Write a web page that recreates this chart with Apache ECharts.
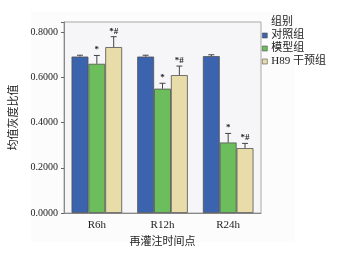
<!DOCTYPE html>
<html>
<head>
<meta charset="utf-8">
<script src="https://cdn.jsdelivr.net/npm/echarts@6/dist/echarts.min.js"></script>
<style>
  html, body { margin: 0; padding: 0; background: #fff; }
  #chart { width: 354px; height: 254px; }
</style>
</head>
<body>
<div id="chart"></div>
<script>
const categories = ['R6h', 'R12h', 'R24h'];
const groupNames = ['对照组', '模型组', 'H89 干预组'];
const controlValues = [0.692, 0.692, 0.694];
const modelValues = [0.660, 0.550, 0.312];
const h89Values = [0.734, 0.610, 0.287];
const controlErr = [0.006, 0.006, 0.006];
const modelErr = [0.037, 0.024, 0.040];
const h89Err = [0.046, 0.040, 0.021];
const controlMarks = ['', '', ''];
const modelMarks = ['*', '*', '*'];
const h89Marks = ['*#', '*#', '*#'];

const colors = ['#3c64ae', '#6cbd5b', '#e8dca8'];
const serif = "'Liberation Serif', 'DejaVu Serif', 'Noto Sans CJK SC', serif";
const catGap = 0.23;

const chart = echarts.init(document.getElementById('chart'));

const groups = [
  { values: controlValues, err: controlErr, marks: controlMarks },
  { values: modelValues, err: modelErr, marks: modelMarks },
  { values: h89Values, err: h89Err, marks: h89Marks }
];

const barSeries = groups.map((g, i) => ({
  name: groupNames[i],
  type: 'bar',
  data: g.values,
  barGap: '0%',
  barCategoryGap: (catGap * 100) + '%',
  itemStyle: { color: colors[i], borderColor: '#505050', borderWidth: 0.8 }
}));

const errSeries = groups.map((g, i) => ({
  type: 'custom',
  silent: true,
  z: 5,
  data: g.values.map((v, k) => [k, v, v + g.err[k], g.marks[k]]),
  renderItem: (params, api) => {
    const band = api.size([1, 0])[0];
    const bw = band * (1 - catGap) / 3;
    const base = api.coord([api.value(0), api.value(1)]);
    const top = api.coord([api.value(0), api.value(2)]);
    const x = base[0] + (i - 1) * bw;
    const cap = 3;
    return {
      type: 'group',
      children: [
        { type: 'line', shape: { x1: x, y1: base[1], x2: x, y2: top[1] },
          style: { stroke: '#444', lineWidth: 1 } },
        { type: 'line', shape: { x1: x - cap, y1: top[1], x2: x + cap, y2: top[1] },
          style: { stroke: '#444', lineWidth: 1 } },
        { type: 'text', x: x, y: top[1] - 1,
          style: { text: api.value(3), textAlign: 'center', textVerticalAlign: 'bottom',
                   font: 'bold 9px ' + serif, fill: '#222' } }
      ]
    };
  }
}));

chart.setOption({
  animation: false,
  graphic: [
    { type: 'rect', z: -10, shape: { x: 31, y: 12, width: 264, height: 230 },
      style: { fill: '#fcfcfc' } },
    { type: 'text', left: 271, top: 17,
      style: { text: '组别', font: '11px ' + serif, fill: '#222' } }
  ],
  legend: {
    orient: 'vertical',
    left: 262,
    top: 30,
    itemWidth: 5,
    itemHeight: 5,
    itemGap: 2,
    itemStyle: { borderColor: '#505050', borderWidth: 0.6 },
    icon: 'rect',
    data: groupNames,
    textStyle: { fontFamily: serif, fontSize: 11, color: '#222', padding: [0, 0, 0, -1] },
    padding: 0
  },
  grid: {
    left: 64, right: 93, top: 22, bottom: 41,
    show: true, backgroundColor: '#f6f6f8', borderColor: '#a8a8a8', borderWidth: 1
  },
  xAxis: {
    type: 'category',
    data: categories,
    name: '再灌注时间点',
    nameLocation: 'middle',
    nameGap: 24,
    nameTextStyle: { fontFamily: serif, fontSize: 11, color: '#222' },
    axisLine: { lineStyle: { color: '#888' } },
    axisTick: { alignWithLabel: true, length: 3, lineStyle: { color: '#666' } },
    axisLabel: { fontFamily: serif, fontSize: 11, color: '#222', margin: 7 }
  },
  yAxis: {
    type: 'value',
    min: 0,
    max: 0.845,
    interval: 0.2,
    name: '均值灰度比值',
    nameLocation: 'middle',
    nameGap: 40,
    nameTextStyle: { fontFamily: serif, fontSize: 11, color: '#222' },
    splitLine: { show: false },
    axisLine: { show: true, lineStyle: { color: '#888' } },
    axisTick: { show: true, length: 3, lineStyle: { color: '#666' } },
    axisLabel: {
      fontFamily: serif, fontSize: 10, color: '#222', margin: 6,
      formatter: v => (Math.abs(v * 5 - Math.round(v * 5)) < 1e-6 ? v.toFixed(4) : '')
    }
  },
  series: [...barSeries, ...errSeries]
});
</script>
</body>
</html>
